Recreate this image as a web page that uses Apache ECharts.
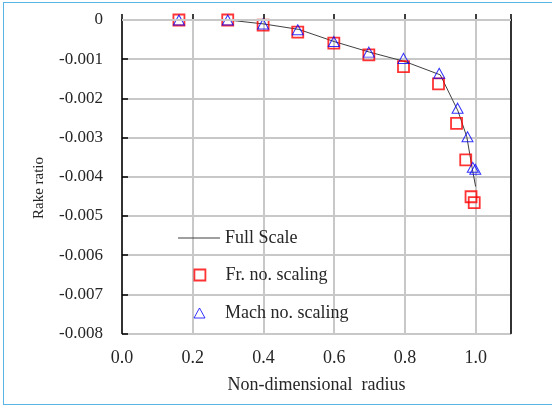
<!DOCTYPE html>
<html>
<head>
<meta charset="utf-8">
<script src="https://cdn.jsdelivr.net/npm/echarts@6/dist/echarts.min.js"></script>
<style>
html,body{margin:0;padding:0;background:#fff;}
#frame{position:absolute;left:3px;top:2px;width:560px;height:403px;border:1.5px solid #5ab4e6;box-sizing:border-box;}
#chart{position:absolute;left:0;top:0;width:552px;height:408px;}
</style>
</head>
<body>
<div id="frame"></div>
<div id="chart"></div>
<script>
// Data
const fullScaleX = [0.16, 0.3, 0.4, 0.5, 0.6, 0.7, 0.8, 0.9, 0.95, 0.975, 0.99, 1.0];
const fullScaleY = [0, 0, -0.0001, -0.00024, -0.00055, -0.00082, -0.00106, -0.0014, -0.00232, -0.00298, -0.00377, -0.00425];
const frX = [0.161, 0.299, 0.399, 0.497, 0.599, 0.698, 0.796, 0.895, 0.946, 0.972, 0.987, 0.996];
const frY = [0, 0, -0.00013, -0.00031, -0.00059, -0.00089, -0.00119, -0.00163, -0.00264, -0.00357, -0.00451, -0.00466];
const machX = [0.161, 0.299, 0.399, 0.497, 0.599, 0.698, 0.796, 0.897, 0.949, 0.977, 0.992, 0.999];
const machY = [0, 0, -0.0001, -0.00025, -0.00055, -0.00082, -0.00098, -0.00136, -0.00225, -0.00298, -0.00376, -0.00381];
const xTickLabels = ['0.0', '0.2', '0.4', '0.6', '0.8', '1.0'];
const yTickLabels = ['0', '-0.001', '-0.002', '-0.003', '-0.004', '-0.005', '-0.006', '-0.007', '-0.008'];
const seriesNames = ['Full Scale', 'Fr. no. scaling', 'Mach no. scaling'];
const xName = 'Non-dimensional  radius';
const yName = 'Rake ratio';

const zip = (a, b) => a.map((v, i) => [v, b[i]]);
const FONT = '"Liberation Serif", "Times New Roman", serif';
const TXT = '#262626';
const GRIDC = 'rgb(200,200,200)';

const legendText = { fontFamily: FONT, fontSize: 18, color: TXT };
// horizontal grid lines at the inner y ticks
const yGridValues = yTickLabels.map(parseFloat).filter(v => v < 0 && v > -0.008);

const chart = echarts.init(document.getElementById('chart'));
chart.setOption({
  animation: false,
  grid: { left: 122, right: 41, top: 20, bottom: 74.5 },
  xAxis: [{
    type: 'value', min: 0, max: 1.1, interval: 0.2,
    name: xName, nameLocation: 'middle', nameGap: 43,
    nameTextStyle: { fontFamily: FONT, fontSize: 18, color: TXT },
    axisLine: { show: true, lineStyle: { color: '#000', width: 1.5 } },
    axisTick: { show: true, inside: true, length: 6, lineStyle: { color: '#000', width: 1.5 } },
    axisLabel: {
      fontFamily: FONT, fontSize: 18, color: TXT, margin: 16,
      formatter: v => { const i = Math.round(v / 0.2); return Math.abs(v - i * 0.2) < 1e-6 ? (xTickLabels[i] || '') : ''; }
    },
    splitLine: { show: true, lineStyle: { color: GRIDC, width: 2, type: 'solid', opacity: 1 } }
  }, {
    type: 'value', position: 'top', min: 0, max: 1.1, interval: 0.2,
    axisLine: { show: true, onZero: false, lineStyle: { color: '#000', width: 1.5 } },
    axisTick: { show: false }, axisLabel: { show: false }, splitLine: { show: false }
  }],
  yAxis: [{
    type: 'value', min: -0.008, max: 0, interval: 0.001,
    axisLine: { show: true, onZero: false, lineStyle: { color: '#000', width: 1.5 } },
    axisTick: { show: true, inside: true, length: 6, lineStyle: { color: '#000', width: 1.5 } },
    axisLabel: {
      fontFamily: FONT, fontSize: 17, color: TXT, margin: 19,
      formatter: v => { const i = Math.round(-v / 0.001); return yTickLabels[i] || ''; }
    },
    splitLine: { show: true, lineStyle: { color: GRIDC, width: 2, type: 'solid', opacity: 1 } }
  }, {
    type: 'value', position: 'right', min: -0.008, max: 0, interval: 0.001,
    axisLine: { show: true, onZero: false, lineStyle: { color: '#000', width: 1.5 } },
    axisTick: { show: false }, axisLabel: { show: false }, splitLine: { show: false }
  }],
  legend: [{
    orient: 'vertical', left: 173, top: 224, itemWidth: 42, itemHeight: 1.2,
    textStyle: legendText,
    data: [{ name: seriesNames[0], icon: 'rect', itemStyle: { color: '#404040', borderWidth: 0 } }]
  }, {
    orient: 'vertical', left: 188.5, top: 261, itemWidth: 11, itemHeight: 11,
    textStyle: Object.assign({ padding: [0, 0, 0, 15] }, legendText),
    data: [{ name: seriesNames[1], icon: 'rect', itemStyle: { color: 'transparent', borderColor: '#ff0000', borderWidth: 1.8 } }]
  }, {
    orient: 'vertical', left: 188.5, top: 299, itemWidth: 11, itemHeight: 10,
    textStyle: Object.assign({ padding: [0, 0, 0, 15] }, legendText),
    data: [{ name: seriesNames[2], icon: 'triangle', itemStyle: { color: 'transparent', borderColor: '#0000ff', borderWidth: 1 } }]
  }],
  graphic: [{
    type: 'text', x: 39, y: 188, rotation: Math.PI / 2,
    style: { text: yName, font: '15px ' + FONT, fill: TXT, align: 'center', verticalAlign: 'middle' }
  }],
  series: [
    {
      name: seriesNames[0], type: 'line', data: zip(fullScaleX, fullScaleY),
      showSymbol: false, symbol: 'none',
      lineStyle: { color: '#404040', width: 1 }, itemStyle: { color: '#404040' }, z: 2,
      markLine: {
        silent: true, symbol: ['none', 'none'], label: { show: false }, animation: false,
        lineStyle: { color: GRIDC, width: 2, type: 'solid', opacity: 1 },
        emphasis: { disabled: true },
        data: yGridValues.map(v => ({ yAxis: v }))
      }
    },
    {
      name: seriesNames[1], type: 'scatter', data: zip(frX, frY),
      symbol: 'rect', symbolSize: 11,
      itemStyle: { color: 'transparent', borderColor: '#ff0000', borderWidth: 1.8 }, z: 3
    },
    {
      name: seriesNames[2], type: 'scatter', data: zip(machX, machY),
      symbol: 'triangle', symbolSize: [11, 10],
      itemStyle: { color: 'transparent', borderColor: '#0000ff', borderWidth: 1 }, z: 4
    }
  ]
});
</script>
</body>
</html>
